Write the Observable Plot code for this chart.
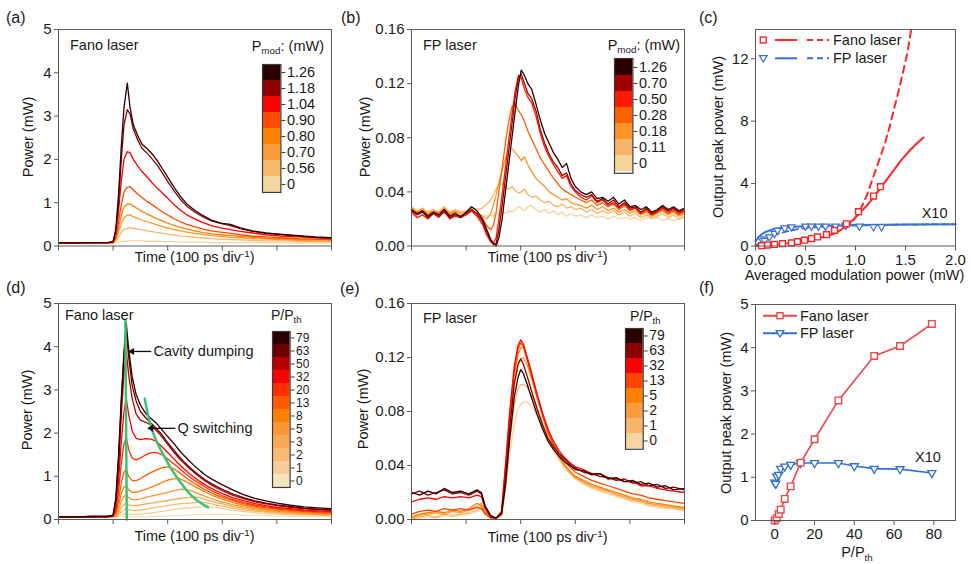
<!DOCTYPE html>
<html><head><meta charset="utf-8">
<script src="https://cdn.jsdelivr.net/npm/d3@7"></script>
<script src="https://cdn.jsdelivr.net/npm/@observablehq/plot@0.6"></script>
<style>
html,body{margin:0;padding:0;background:#fff;}
#fig{position:relative;width:971px;height:564px;overflow:hidden;background:#fff;font-family:"Liberation Sans",Arial,sans-serif;color:#1a1a1a;}
</style></head><body><div id="fig"></div>
<script>
// ---------- Panel (a): Fano laser, time traces vs Pmod ----------
const tA = [0,0.3,0.6,0.9,1.0,1.05,1.1,1.15,1.2,1.26,1.31,1.37,1.45,1.53,1.62,1.72,1.82,1.92,2.02,2.12,2.23,2.35,2.5,2.65,2.8,2.97,3.15,3.33,3.55,3.8,4.1,4.4,4.7,5.0];
const labA = ["1.26","1.18","1.04","0.90","0.80","0.70","0.56","0"];
const a126 = [0.07,0.07,0.08,0.08,0.1,0.4,1.2,2.3,3.2,3.76,3.2,2.8,2.55,2.35,2.25,2.12,1.95,1.75,1.55,1.35,1.15,0.97,0.82,0.7,0.6,0.53,0.5,0.42,0.35,0.3,0.27,0.24,0.21,0.19];
const a118 = [0.07,0.07,0.08,0.08,0.1,0.35,1.0,2.0,2.8,3.15,3.05,2.7,2.45,2.25,2.15,2.0,1.85,1.65,1.45,1.27,1.08,0.92,0.78,0.67,0.58,0.52,0.47,0.4,0.34,0.29,0.26,0.23,0.2,0.18];
const a104 = [0.07,0.07,0.07,0.08,0.09,0.3,0.8,1.5,2.0,2.18,2.15,2.0,1.85,1.72,1.6,1.45,1.32,1.2,1.08,0.95,0.83,0.72,0.62,0.54,0.47,0.42,0.38,0.34,0.3,0.26,0.23,0.21,0.19,0.17];
const a090 = [0.07,0.07,0.07,0.07,0.08,0.2,0.55,0.95,1.25,1.36,1.37,1.3,1.2,1.12,1.03,0.95,0.86,0.78,0.7,0.63,0.56,0.5,0.44,0.39,0.35,0.32,0.29,0.26,0.23,0.21,0.19,0.17,0.16,0.15];
const a080 = [0.07,0.07,0.07,0.07,0.08,0.17,0.42,0.7,0.9,0.97,0.97,0.92,0.86,0.8,0.74,0.68,0.62,0.57,0.52,0.47,0.43,0.39,0.35,0.31,0.28,0.26,0.24,0.22,0.2,0.18,0.17,0.15,0.14,0.14];
const a070 = [0.07,0.07,0.07,0.07,0.08,0.14,0.32,0.52,0.65,0.71,0.72,0.68,0.64,0.6,0.56,0.52,0.48,0.44,0.41,0.38,0.35,0.32,0.29,0.26,0.24,0.22,0.2,0.19,0.17,0.16,0.15,0.13,0.12,0.12];
const a056 = [0.07,0.07,0.07,0.07,0.08,0.11,0.2,0.31,0.38,0.41,0.42,0.41,0.39,0.37,0.35,0.33,0.31,0.29,0.27,0.25,0.23,0.22,0.2,0.19,0.17,0.16,0.15,0.14,0.13,0.12,0.12,0.11,0.1,0.1];
const a000 = [0.07,0.07,0.07,0.07,0.07,0.08,0.09,0.1,0.11,0.12,0.12,0.12,0.12,0.12,0.11,0.11,0.11,0.1,0.1,0.1,0.09,0.09,0.09,0.09,0.08,0.08,0.08,0.08,0.08,0.08,0.07,0.07,0.07,0.07];

// ---------- Panel (b): FP laser, time traces vs Pmod ----------
const tB = [0,0.1,0.2,0.3,0.4,0.5,0.6,0.7,0.8,0.9,1.0,1.1,1.2,1.3,1.38,1.45,1.5,1.55,1.6,1.66,1.72,1.78,1.84,1.9,1.96,2.01,2.07,2.13,2.2,2.28,2.36,2.44,2.52,2.6,2.68,2.76,2.84,2.92,3.0,3.1,3.2,3.3,3.4,3.5,3.6,3.7,3.8,3.9,4.0,4.1,4.2,4.3,4.4,4.5,4.6,4.7,4.8,4.9,5.0];
const labB = ["1.26","0.70","0.50","0.28","0.18","0.11","0"];
const b126 = [0.027,0.024,0.026,0.022,0.025,0.023,0.027,0.022,0.024,0.021,0.025,0.029,0.026,0.020,
 0.012,0.005,0.002,0.0,0.006,0.02,0.04,0.06,0.08,0.1,0.119,0.13,0.126,0.12,0.116,0.105,0.093,0.083,0.076,0.069,0.064,0.058,0.061,0.05,
 0.044,0.04,0.038,0.04,0.035,0.036,0.033,0.036,0.031,0.034,0.029,0.03,0.027,0.029,0.025,0.027,0.03,0.027,0.029,0.026,0.028];
const b070 = [0.026,0.023,0.025,0.021,0.024,0.022,0.025,0.021,0.023,0.022,0.024,0.027,0.024,0.018,
 0.01,0.004,0.001,0.002,0.012,0.03,0.05,0.07,0.09,0.11,0.125,0.127,0.12,0.113,0.109,0.1,0.086,0.076,0.068,0.062,0.058,0.052,0.054,0.046,
 0.041,0.038,0.036,0.038,0.033,0.035,0.031,0.034,0.029,0.032,0.028,0.029,0.025,0.028,0.024,0.026,0.029,0.026,0.028,0.025,0.027];
const b050 = [0.025,0.021,0.023,0.020,0.024,0.021,0.026,0.020,0.022,0.021,0.023,0.026,0.022,0.016,
 0.008,0.003,0.002,0.006,0.02,0.038,0.058,0.078,0.097,0.115,0.126,0.124,0.116,0.11,0.106,0.096,0.083,0.073,0.066,0.06,0.055,0.05,0.052,0.044,
 0.04,0.036,0.034,0.037,0.032,0.034,0.03,0.032,0.028,0.031,0.027,0.028,0.024,0.027,0.023,0.025,0.028,0.025,0.027,0.024,0.026];
const b028 = [0.027,0.024,0.026,0.023,0.025,0.024,0.027,0.023,0.025,0.022,0.024,0.026,0.023,0.02,
 0.015,0.012,0.015,0.025,0.04,0.058,0.076,0.092,0.103,0.105,0.1,0.097,0.092,0.085,0.079,0.072,0.065,0.06,0.055,0.05,0.046,0.042,0.04,0.038,
 0.036,0.034,0.032,0.034,0.03,0.032,0.029,0.031,0.027,0.03,0.026,0.028,0.024,0.026,0.023,0.025,0.027,0.024,0.026,0.023,0.025];
const b018 = [0.028,0.025,0.027,0.024,0.026,0.025,0.028,0.024,0.026,0.024,0.025,0.027,0.024,0.022,
 0.02,0.024,0.03,0.038,0.047,0.056,0.065,0.071,0.072,0.069,0.066,0.063,0.066,0.06,0.055,0.05,0.047,0.044,0.04,0.038,0.036,0.034,0.035,0.032,
 0.031,0.03,0.028,0.03,0.027,0.029,0.026,0.028,0.025,0.027,0.024,0.026,0.023,0.025,0.022,0.024,0.026,0.023,0.025,0.022,0.024];
const b011 = [0.029,0.026,0.028,0.025,0.027,0.025,0.029,0.025,0.027,0.025,0.026,0.028,0.027,0.028,
 0.031,0.034,0.038,0.042,0.045,0.046,0.044,0.042,0.044,0.041,0.039,0.04,0.042,0.038,0.036,0.037,0.034,0.032,0.033,0.03,0.029,0.031,0.028,0.029,
 0.027,0.028,0.025,0.027,0.024,0.026,0.024,0.026,0.023,0.025,0.022,0.024,0.021,0.023,0.021,0.022,0.024,0.021,0.023,0.02,0.022];
const b000 = [0.027,0.025,0.027,0.024,0.026,0.024,0.026,0.024,0.025,0.023,0.025,0.026,0.024,0.023,
 0.022,0.023,0.022,0.024,0.023,0.025,0.024,0.026,0.025,0.027,0.029,0.028,0.026,0.029,0.03,0.027,0.025,0.027,0.024,0.026,0.023,0.025,0.022,0.024,
 0.022,0.023,0.021,0.023,0.021,0.022,0.02,0.022,0.02,0.021,0.02,0.021,0.019,0.021,0.02,0.021,0.019,0.02,0.019,0.02,0.021];

// ---------- Panel (c): peak power vs averaged modulation power ----------
const fanoX = [0.06,0.12,0.19,0.27,0.36,0.42,0.49,0.56,0.62,0.71,0.79,0.91,1.03,1.18,1.25];
const fanoY = [0.02,0.06,0.1,0.15,0.2,0.28,0.37,0.48,0.58,0.73,1.0,1.42,2.2,3.2,3.8];
const fpX = [0.06,0.09,0.14,0.19,0.22,0.29,0.36,0.5,0.56,0.63,0.7,0.8,0.9,1.04,1.18,1.26];
const fpY = [0.45,0.35,0.58,0.8,1.0,1.15,1.22,1.27,1.27,1.27,1.27,1.27,1.34,1.27,1.23,1.23];
const fitX = [0,0.12,0.25,0.39,0.5,0.62,0.71,0.79,0.86,0.92,0.98,1.02,1.07,1.12,1.19,1.26,1.33,1.4,1.47,1.54,1.61,1.68];
const fitY = [0,0.05,0.12,0.22,0.33,0.48,0.62,0.8,1.05,1.38,1.7,1.98,2.3,2.63,3.2,3.8,4.4,5.0,5.6,6.1,6.55,6.95];
const dashX = [0.9,0.96,1.02,1.06,1.11,1.16,1.22,1.29,1.34,1.39,1.43,1.47,1.52,1.56];
const dashY = [1.1,1.5,2.0,2.5,3.2,4.1,5.2,6.5,7.6,8.9,9.9,11.0,12.4,14.0];
const fpFitX = [0,0.03,0.06,0.1,0.15,0.2,0.3,0.4,0.5,0.7,1.0,1.5,2.0];
const fpFitY = [0.3,0.55,0.75,0.9,1.02,1.1,1.18,1.23,1.26,1.3,1.34,1.38,1.4];
const fpDashX = [0,0.05,0.1,0.15,0.2,0.3,0.4,0.5,0.7,1.0,1.5,2.0];
const fpDashY = [0.05,0.2,0.4,0.58,0.72,0.92,1.05,1.14,1.24,1.31,1.37,1.39];

// ---------- Panel (d): Fano laser, time traces vs P/Pth ----------
const tD = [0,0.3,0.6,0.9,1.0,1.05,1.1,1.15,1.2,1.24,1.29,1.35,1.42,1.5,1.6,1.7,1.8,1.9,2.0,2.1,2.2,2.3,2.4,2.5,2.6,2.7,2.8,2.9,3.0,3.2,3.4,3.6,3.8,4.0,4.25,4.5,4.75,5.0];
const labD = ["79","63","50","32","20","13","8","5","3","2","1","0"];
const d79 = [0.06,0.06,0.07,0.07,0.1,0.5,1.5,2.8,3.9,4.55,3.9,3.3,2.9,2.65,2.45,2.33,2.22,2.07,1.92,1.78,1.62,1.48,1.35,1.23,1.12,1.02,0.94,0.87,0.8,0.68,0.57,0.49,0.43,0.38,0.33,0.29,0.27,0.25];
const d63 = [0.06,0.06,0.07,0.07,0.1,0.45,1.4,2.7,3.8,4.35,3.7,3.1,2.75,2.5,2.35,2.22,2.1,1.95,1.78,1.62,1.47,1.33,1.21,1.1,1.0,0.91,0.83,0.76,0.7,0.59,0.5,0.43,0.38,0.34,0.3,0.26,0.24,0.22];
const d50 = [0.06,0.06,0.07,0.07,0.09,0.4,1.2,2.4,3.4,3.9,3.3,2.8,2.45,2.3,2.25,2.18,2.05,1.9,1.74,1.58,1.43,1.3,1.18,1.07,0.97,0.88,0.8,0.73,0.67,0.56,0.48,0.41,0.36,0.32,0.28,0.25,0.23,0.21];
const d32 = [0.06,0.06,0.06,0.07,0.08,0.3,0.9,1.8,2.5,2.8,2.4,2.05,1.88,1.85,1.87,1.86,1.8,1.68,1.55,1.42,1.29,1.17,1.06,0.96,0.87,0.79,0.72,0.66,0.6,0.5,0.43,0.37,0.32,0.28,0.25,0.22,0.2,0.18];
const d20 = [0.06,0.06,0.06,0.07,0.08,0.2,0.65,1.3,1.75,1.9,1.6,1.42,1.38,1.42,1.5,1.55,1.55,1.5,1.4,1.3,1.2,1.09,0.99,0.9,0.82,0.74,0.67,0.61,0.55,0.46,0.39,0.33,0.29,0.26,0.23,0.2,0.18,0.17];
const d13 = [0.06,0.06,0.06,0.06,0.07,0.15,0.45,0.85,1.1,1.15,0.98,0.9,0.9,0.95,1.02,1.09,1.15,1.2,1.22,1.18,1.1,1.0,0.91,0.83,0.75,0.68,0.62,0.56,0.51,0.43,0.36,0.31,0.27,0.24,0.21,0.18,0.16,0.15];
const d8 = [0.06,0.06,0.06,0.06,0.07,0.12,0.32,0.6,0.75,0.78,0.68,0.63,0.63,0.66,0.7,0.75,0.8,0.86,0.91,0.94,0.95,0.9,0.83,0.76,0.69,0.63,0.57,0.52,0.47,0.39,0.33,0.28,0.24,0.21,0.19,0.16,0.15,0.14];
const d5 = [0.06,0.06,0.06,0.06,0.07,0.1,0.22,0.42,0.54,0.56,0.5,0.46,0.46,0.48,0.51,0.54,0.57,0.6,0.63,0.66,0.69,0.7,0.68,0.63,0.58,0.53,0.48,0.44,0.4,0.34,0.29,0.25,0.21,0.19,0.17,0.15,0.13,0.12];
const d3 = [0.06,0.06,0.06,0.06,0.06,0.08,0.15,0.28,0.35,0.37,0.34,0.32,0.32,0.34,0.36,0.38,0.4,0.42,0.44,0.46,0.48,0.5,0.51,0.52,0.5,0.46,0.42,0.39,0.36,0.3,0.26,0.22,0.19,0.17,0.15,0.13,0.12,0.11];
const d2 = [0.06,0.06,0.06,0.06,0.06,0.07,0.11,0.18,0.22,0.24,0.22,0.21,0.21,0.22,0.24,0.26,0.28,0.3,0.32,0.34,0.36,0.37,0.38,0.39,0.4,0.39,0.36,0.33,0.31,0.26,0.22,0.19,0.17,0.15,0.13,0.12,0.11,0.1];
const d1 = [0.06,0.06,0.06,0.06,0.06,0.07,0.08,0.1,0.12,0.13,0.12,0.12,0.12,0.13,0.14,0.15,0.17,0.19,0.21,0.23,0.25,0.26,0.27,0.28,0.29,0.3,0.29,0.27,0.25,0.21,0.18,0.16,0.14,0.12,0.11,0.1,0.09,0.09];
const d0 = [0.06,0.06,0.06,0.06,0.06,0.06,0.06,0.06,0.06,0.06,0.06,0.06,0.06,0.06,0.06,0.07,0.07,0.08,0.08,0.09,0.09,0.1,0.1,0.11,0.11,0.12,0.12,0.12,0.12,0.11,0.1,0.1,0.09,0.08,0.08,0.07,0.07,0.07];
const cdX = [1.225,1.25], cdY = [4.62,0];
const qsX = [1.58,1.66,1.78,1.92,2.05,2.2,2.35,2.5,2.62,2.74];
const qsY = [2.8,2.3,1.85,1.5,1.2,0.92,0.67,0.48,0.37,0.28];
const annText = ["Cavity dumping","Q switching"];
const annX = [1.74,2.18], annY = [3.89,2.11];
const arrFrom = [1.70,2.14], arrTo = [1.31,1.66];

// ---------- Panel (e): FP laser, time traces vs P/Pth ----------
const tE = [0,0.15,0.3,0.45,0.6,0.75,0.9,1.05,1.2,1.28,1.35,1.45,1.55,1.65,1.72,1.8,1.88,1.95,2.0,2.05,2.12,2.2,2.3,2.4,2.5,2.6,2.7,2.8,2.9,3.0,3.15,3.3,3.45,3.6,3.75,3.9,4.05,4.2,4.35,4.5,4.65,4.8,5.0];
const labE = ["79","63","32","13","5","2","1","0"];
const e79 = [0.02,0.018,0.021,0.019,0.023,0.02,0.021,0.019,0.022,0.02,0.01,0.003,0.001,0.004,0.025,0.06,0.09,0.105,0.111,0.108,0.1,0.09,0.078,0.067,0.058,0.052,0.047,0.043,0.04,0.037,0.036,0.033,0.034,0.03,0.031,0.028,0.029,0.026,0.027,0.024,0.025,0.022,0.023];
const e63 = [0.019,0.021,0.018,0.02,0.022,0.019,0.02,0.018,0.021,0.019,0.009,0.002,0.001,0.005,0.03,0.068,0.1,0.115,0.119,0.115,0.106,0.095,0.082,0.07,0.06,0.054,0.049,0.045,0.041,0.038,0.035,0.034,0.032,0.031,0.029,0.03,0.027,0.028,0.025,0.026,0.023,0.024,0.022];
const e32 = [0.013,0.015,0.016,0.015,0.017,0.016,0.017,0.016,0.018,0.017,0.008,0.002,0.001,0.006,0.04,0.08,0.113,0.129,0.133,0.13,0.12,0.108,0.093,0.079,0.067,0.058,0.051,0.046,0.042,0.039,0.037,0.034,0.034,0.031,0.03,0.028,0.028,0.025,0.025,0.023,0.022,0.021,0.02];
const e13 = [0.004,0.006,0.007,0.006,0.008,0.007,0.008,0.007,0.009,0.008,0.004,0.001,0.001,0.006,0.038,0.078,0.11,0.126,0.131,0.128,0.118,0.106,0.091,0.077,0.065,0.056,0.049,0.043,0.039,0.035,0.032,0.029,0.027,0.025,0.023,0.021,0.019,0.018,0.016,0.015,0.014,0.013,0.012];
const e5 = [0.002,0.004,0.005,0.006,0.005,0.007,0.006,0.008,0.012,0.01,0.005,0.002,0.001,0.005,0.035,0.074,0.106,0.122,0.127,0.128,0.12,0.108,0.092,0.078,0.065,0.055,0.047,0.041,0.036,0.032,0.029,0.026,0.024,0.022,0.02,0.018,0.016,0.015,0.013,0.012,0.011,0.01,0.009];
const e2 = [0.001,0.003,0.004,0.005,0.004,0.006,0.005,0.007,0.01,0.012,0.006,0.002,0.001,0.004,0.03,0.068,0.098,0.114,0.119,0.12,0.114,0.104,0.09,0.077,0.064,0.054,0.046,0.04,0.035,0.031,0.028,0.025,0.023,0.021,0.019,0.017,0.015,0.014,0.012,0.011,0.01,0.009,0.008];
const e1 = [0.0,0.002,0.003,0.002,0.004,0.003,0.004,0.005,0.007,0.01,0.005,0.002,0.001,0.003,0.025,0.058,0.084,0.097,0.1,0.1,0.098,0.092,0.082,0.072,0.062,0.053,0.046,0.04,0.035,0.031,0.027,0.024,0.022,0.02,0.018,0.016,0.014,0.013,0.011,0.01,0.009,0.008,0.007];
const e0 = [0.0,0.001,0.002,0.001,0.003,0.002,0.003,0.004,0.006,0.008,0.004,0.002,0.001,0.002,0.02,0.048,0.07,0.082,0.085,0.087,0.087,0.084,0.077,0.068,0.059,0.051,0.044,0.038,0.034,0.03,0.026,0.023,0.021,0.019,0.017,0.015,0.013,0.012,0.01,0.009,0.008,0.008,0.007];

// ---------- Panel (f): peak power vs P/Pth ----------
const pFano = [0,1,2,3,5,8,13,20,32,50,63,79];
const peakFano = [0,0.05,0.15,0.25,0.5,0.79,1.34,1.88,2.78,3.81,4.04,4.55];
const pFP = [0,0.5,1,2,3,5,8,13,20,32,40,50,63,79];
const peakFP = [0.88,0.85,1.02,1.06,1.2,1.25,1.29,1.33,1.33,1.33,1.26,1.2,1.19,1.1];

// ---------- styles ----------
const colA = ["#2b0000","#8c0000","#ff0000","#ff4a00","#ff8000","#fa9a38","#f8b86a","#f6d6a0"];
const colB = ["#2b0000","#a00000","#ff1a00","#ff6000","#ff9526","#f8b366","#f6d59c"];
const colD = ["#2d0000","#6e0000","#b80000","#ff0000","#ff3000","#ff5a00","#ff8000","#fb9632","#f9a751","#f7ba72","#f5cd98","#f3e4bd"];
const colE = ["#2b0000","#8c0000","#ff0000","#ff4400","#ff8000","#fa9c3e","#f8b66a","#f6d6a0"];
const RED_C = "#ff2626", BLUE_C = "#3a6fd8", RED_F = "#f04646", BLUE_F = "#3070d2", GREEN = "#3cc274";
const FONT = '"Liberation Sans", Arial, sans-serif';
const INK = "#1a1a1a", FRAME = "#5a5a5a";
const SVGNS = "http://www.w3.org/2000/svg";

const fig = document.getElementById("fig");

function traces(t, labels, series) {
  const rows = [];
  for (let k = labels.length - 1; k >= 0; k--) series[k].forEach((v, i) => rows.push({t: t[i], v, k: labels[k]}));
  return rows;
}
function pts(xs, ys) { return xs.map((x, i) => ({x, y: ys[i]})); }

function panel(o) {
  const mL = 60, mT = 12, mR = 12, mB = 40;
  const p = Plot.plot({
    width: o.fw + mL + mR, height: o.fh + mT + mB,
    marginLeft: mL, marginTop: mT, marginRight: mR, marginBottom: mB,
    style: {fontFamily: FONT, fontSize: "14px", color: INK, background: "transparent", overflow: "visible"},
    x: {domain: o.xd}, y: {domain: o.yd},
    color: o.color,
    marks: [
      ...o.marks,
      Plot.frame({stroke: FRAME, strokeWidth: 1}),
      Plot.axisY({ticks: o.yt, tickSize: 4, tickPadding: 3, tickFormat: o.yf, label: null, stroke: FRAME, fontSize: 15}),
      Plot.axisX({ticks: o.xt, tickSize: 5, tickPadding: 3, tickFormat: o.xf, label: null, stroke: FRAME, fontSize: 15})
    ]
  });
  p.style.position = "absolute";
  p.style.left = (o.fl - mL) + "px";
  p.style.top = (o.ft - mT) + "px";
  fig.appendChild(p);
}

function colorbar(o) {
  const mR = 44;
  const p = Plot.plot({
    width: o.w + mR, height: o.labels.length * o.h,
    marginLeft: 0, marginRight: mR, marginTop: 0, marginBottom: 0,
    style: {fontFamily: FONT, fontSize: o.fs + "px", color: INK, background: "transparent", overflow: "visible"},
    y: {type: "band", domain: o.labels, padding: 0, axis: null},
    color: {type: "ordinal", domain: o.labels, range: o.colors},
    marks: [
      Plot.cell(o.labels, {y: d => d, fill: d => d, inset: 0}),
      Plot.frame({stroke: "#3a3a3a", strokeWidth: 1.2}),
      Plot.axisY({anchor: "right", tickSize: 4, tickPadding: 2, label: null, stroke: "#3a3a3a", fontSize: o.fs})
    ]
  });
  p.style.position = "absolute";
  p.style.left = o.left + "px";
  p.style.top = o.top + "px";
  fig.appendChild(p);
}

const noText = () => "";
const intText = d => String(d);
const fix1 = d => d.toFixed(1);
const fix2 = d => d.toFixed(2);
const timeTicks = [0, 1, 2, 3, 4, 5];
const traceLine = (rows, w) => Plot.line(rows, {x: "t", y: "v", z: "k", stroke: "k", strokeWidth: w, curve: "linear"});

// (a)
panel({fl: 58, ft: 29, fw: 273, fh: 216.5, xd: [0, 5], yd: [0, 5], xt: timeTicks, xf: noText, yt: [0,1,2,3,4,5], yf: intText,
  color: {type: "ordinal", domain: labA, range: colA},
  marks: [traceLine(traces(tA, labA, [a126,a118,a104,a090,a080,a070,a056,a000]), 1.3)]});
// (b)
panel({fl: 411, ft: 29, fw: 273, fh: 216.5, xd: [0, 5], yd: [0, 0.16], xt: timeTicks, xf: noText, yt: [0,0.04,0.08,0.12,0.16], yf: fix2,
  color: {type: "ordinal", domain: labB, range: colB},
  marks: [traceLine(traces(tB, labB, [b126,b070,b050,b028,b018,b011,b000]), 1.3)]});
// (c)
panel({fl: 754.5, ft: 29, fw: 200, fh: 216.5, xd: [0, 2], yd: [0, 13.87], xt: [0,0.5,1,1.5,2], xf: fix1, yt: [0,4,8,12], yf: intText,
  marks: [
    Plot.line(pts(fpDashX, fpDashY), {x: "x", y: "y", stroke: BLUE_C, strokeWidth: 1.8, strokeDasharray: "6,4"}),
    Plot.line(pts(fpFitX, fpFitY), {x: "x", y: "y", stroke: BLUE_C, strokeWidth: 2}),
    Plot.line(pts(dashX, dashY), {x: "x", y: "y", stroke: RED_C, strokeWidth: 2, strokeDasharray: "7,5", clip: true}),
    Plot.line(pts(fitX, fitY), {x: "x", y: "y", stroke: RED_C, strokeWidth: 2}),
    Plot.dot(pts(fpX, fpY), {x: "x", y: "y", symbol: "triangle", rotate: 180, r: 2.7, stroke: BLUE_C, fill: "white", strokeWidth: 1.2}),
    Plot.dot(pts(fanoX, fanoY), {x: "x", y: "y", symbol: "square", r: 3.3, stroke: RED_C, fill: "white", strokeWidth: 1.4})
  ]});
// (d)
panel({fl: 58, ft: 303, fw: 273, fh: 216, xd: [0, 5], yd: [0, 5], xt: timeTicks, xf: noText, yt: [0,1,2,3,4,5], yf: intText,
  color: {type: "ordinal", domain: labD, range: colD},
  marks: [
    traceLine(traces(tD, labD, [d79,d63,d50,d32,d20,d13,d8,d5,d3,d2,d1,d0]), 1.3),
    Plot.line(pts(cdX, cdY), {x: "x", y: "y", stroke: GREEN, strokeWidth: 2.5}),
    Plot.line(pts(qsX, qsY), {x: "x", y: "y", stroke: GREEN, strokeWidth: 2.5, curve: "natural"}),
    Plot.link(annText, {x1: (d, i) => arrFrom[i], x2: (d, i) => arrTo[i], y1: (d, i) => annY[i], y2: (d, i) => annY[i], stroke: "#111", strokeWidth: 1.3}),
    Plot.dot(annText, {x: (d, i) => arrTo[i], y: (d, i) => annY[i], symbol: "triangle", rotate: -90, r: 2.6, fill: "#111", stroke: "none", dx: 2}),
    Plot.text(annText, {x: (d, i) => annX[i], y: (d, i) => annY[i], text: d => d, textAnchor: "start", lineAnchor: "middle", fontSize: 14.5, fill: INK})
  ]});
// (e)
panel({fl: 411, ft: 303.3, fw: 273, fh: 216, xd: [0, 5], yd: [0, 0.16], xt: timeTicks, xf: noText, yt: [0,0.04,0.08,0.12,0.16], yf: fix2,
  color: {type: "ordinal", domain: labE, range: colE},
  marks: [traceLine(traces(tE, labE, [e79,e63,e32,e13,e5,e2,e1,e0]), 1.3)]});
// (f)
panel({fl: 755, ft: 304, fw: 200, fh: 216, xd: [-9.7, 90.9], yd: [0, 5], xt: [0,20,40,60,80], xf: intText, yt: [0,1,2,3,4,5], yf: intText,
  marks: [
    Plot.line(pts(pFP, peakFP), {x: "x", y: "y", stroke: BLUE_F, strokeWidth: 1.6}),
    Plot.line(pts(pFano, peakFano), {x: "x", y: "y", stroke: RED_F, strokeWidth: 1.6}),
    Plot.dot(pts(pFP, peakFP), {x: "x", y: "y", symbol: "triangle", rotate: 180, r: 3, stroke: BLUE_F, fill: "white", strokeWidth: 1.3}),
    Plot.dot(pts(pFano, peakFano), {x: "x", y: "y", symbol: "square", r: 3.7, stroke: RED_F, fill: "white", strokeWidth: 1.4})
  ]});

// colour bars
colorbar({left: 262.3, top: 64, w: 18.4, h: 16, labels: labA, colors: colA, fs: 14.5});
colorbar({left: 614.3, top: 58.3, w: 18.4, h: 16.4, labels: labB, colors: colB, fs: 14.5});
colorbar({left: 271.7, top: 331, w: 17.6, h: 13, labels: labD, colors: colD, fs: 12});
colorbar({left: 625, top: 328.3, w: 17.7, h: 15.1, labels: labE, colors: colE, fs: 14});

// ---------- overlay text & legends ----------
const ov = document.createElementNS(SVGNS, "svg");
ov.setAttribute("width", 971); ov.setAttribute("height", 564);
ov.style.position = "absolute"; ov.style.left = "0px"; ov.style.top = "0px";
ov.style.fontFamily = FONT; ov.setAttribute("fill", INK);
fig.appendChild(ov);

function el(tag, attrs, parent = ov) {
  const e = document.createElementNS(SVGNS, tag);
  for (const k in attrs) e.setAttribute(k, attrs[k]);
  parent.appendChild(e);
  return e;
}

function label(x, y, parts, {size = 14.5, anchor = "start", rotate = 0, sub = 3} = {}) {
  const t = el("text", {"font-size": size, "text-anchor": anchor});
  if (rotate) { t.setAttribute("transform", `translate(${x},${y}) rotate(${rotate})`); t.setAttribute("dominant-baseline", "central"); }
  else { t.setAttribute("x", x); t.setAttribute("y", y); }
  let shift = 0;
  for (const p of parts) {
    const [s, kind] = Array.isArray(p) ? p : [p];
    const target = kind === "sub" ? sub : kind === "sup" ? -5 : 0;
    const ts = el("tspan", {}, t);
    ts.textContent = s;
    if (target - shift !== 0) ts.setAttribute("dy", target - shift);
    if (kind) ts.setAttribute("font-size", size * 0.68);
    shift = target;
  }
}

// panel letters
label(6, 23, ["(a)"], {size: 16});
label(341, 23, ["(b)"], {size: 16});
label(699, 23, ["(c)"], {size: 16});
label(6, 293, ["(d)"], {size: 16});
label(340, 294, ["(e)"], {size: 16});
label(699, 293, ["(f)"], {size: 16});

// axis titles
const timeTitle = ["Time (100 ps div", ["-1", "sup"], ")"];
label(194.5, 262, timeTitle, {anchor: "middle"});
label(547.5, 262, timeTitle, {anchor: "middle"});
label(194.5, 541, timeTitle, {anchor: "middle"});
label(547.5, 542, timeTitle, {anchor: "middle"});
label(854.5, 280, ["Averaged modulation power (mW)"], {anchor: "middle"});
label(857, 557, ["P/P", ["th", "sub"]], {anchor: "middle", sub: 4});
label(28, 137, ["Power (mW)"], {anchor: "middle", rotate: -90});
label(365, 137, ["Power (mW)"], {anchor: "middle", rotate: -90});
label(717.5, 137, ["Output peak power (mW)"], {anchor: "middle", rotate: -90});
label(27, 410, ["Power (mW)"], {anchor: "middle", rotate: -90});
label(363, 409, ["Power (mW)"], {anchor: "middle", rotate: -90});
label(726, 413, ["Output peak power (mW)"], {anchor: "middle", rotate: -90});

// in-panel labels
label(70, 50, ["Fano laser"]);
label(423, 50, ["FP laser"]);
label(65, 320, ["Fano laser"]);
label(423, 323, ["FP laser"]);
label(324, 51, ["P", ["mod", "sub"], ": (mW)"], {anchor: "end"});
label(680, 49.5, ["P", ["mod", "sub"], ": (mW)"], {anchor: "end"});
label(271, 320, ["P/P", ["th", "sub"]], {size: 14});
label(630, 321, ["P/P", ["th", "sub"]], {size: 14});
label(921.7, 218, ["X10"]);
label(915, 462, ["X10"]);

// legends
function marker(kind, cx, cy, color) {
  if (kind === "square") el("rect", {x: cx - 3, y: cy - 3, width: 6, height: 6, fill: "white", stroke: color, "stroke-width": 1.4});
  else el("path", {d: `M${cx - 3.8},${cy - 2.6}L${cx + 3.8},${cy - 2.6}L${cx},${cy + 3.8}Z`, fill: "white", stroke: color, "stroke-width": 1.3});
}
function legendRow(cx, cy, color, kind, lines, text, tx) {
  for (const [x1, x2, dash] of lines) {
    const l = el("line", {x1, x2, y1: cy, y2: cy, stroke: color, "stroke-width": 2});
    if (dash) l.setAttribute("stroke-dasharray", dash);
  }
  marker(kind, cx, cy, color);
  label(tx, cy + 5, [text]);
}
legendRow(763.3, 40, RED_C, "square", [[775, 797], [807, 829, "6,4"]], "Fano laser", 833);
legendRow(763.3, 58.3, BLUE_C, "triangle", [[775, 797], [807, 829, "6,4"]], "FP laser", 833);
legendRow(780, 315.7, RED_F, "square", [[763, 797]], "Fano laser", 800);
legendRow(780, 333.3, BLUE_F, "triangle", [[763, 797]], "FP laser", 800);
</script>
</body></html>
